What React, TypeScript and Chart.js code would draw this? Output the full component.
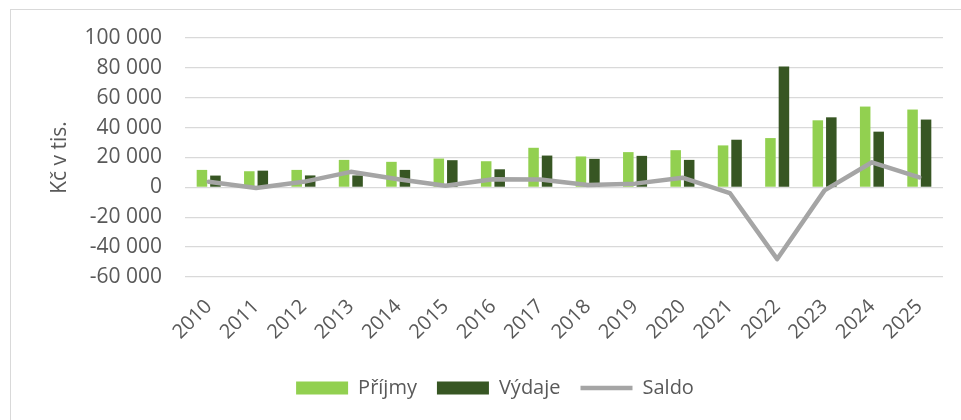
import React, { useEffect, useRef } from "react";
import { Chart, registerables } from "chart.js";

Chart.register(...registerables);

const categories = ["2010","2011","2012","2013","2014","2015","2016","2017","2018","2019","2020","2021","2022","2023","2024","2025"];
const prijmy = [11700, 10800, 11700, 18400, 17100, 19300, 17500, 26500, 20700, 23600, 24900, 28100, 33000, 44900, 54100, 52100];
const vydaje = [7900, 11200, 8000, 8000, 11700, 18200, 12100, 21300, 19100, 21100, 18400, 31900, 81000, 46900, 37300, 45400];
const saldo = [3800, -400, 3700, 10400, 5400, 1100, 5400, 5200, 1600, 2500, 6500, -3800, -48000, -2000, 16800, 6700];
const yMin = -60000;
const yMax = 100000;
const yStep = 20000;

const FONT = "'Open Sans', sans-serif";
const TEXT = "#595959";

function fmt(v: number): string {
  const s = String(Math.abs(v)).replace(/\B(?=(\d{3})+(?!\d))/g, " ");
  return (v < 0 ? "-" : "") + s;
}

export default function App() {
  const ref = useRef<HTMLCanvasElement | null>(null);
  useEffect(() => {
    if (!ref.current) return;
    const chart = new Chart(ref.current, {
      type: "bar",
      data: {
        labels: categories,
        datasets: [
          { label: "Příjmy", data: prijmy, backgroundColor: "#92d050", borderWidth: 0, pointStyle: "rect", order: 1, categoryPercentage: 0.57, barPercentage: 0.78 } as any,
          { label: "Výdaje", data: vydaje, backgroundColor: "#375623", borderWidth: 0, pointStyle: "rect", order: 1, categoryPercentage: 0.57, barPercentage: 0.78 } as any,
          { type: "line", label: "Saldo", data: saldo, borderColor: "#a5a5a5", backgroundColor: "#a5a5a5", borderWidth: 4.5, pointRadius: 0, pointStyle: "line", borderJoinStyle: "round", borderCapStyle: "round", order: 0, tension: 0 } as any,
        ],
      },
      options: {
        responsive: false,
        animation: false,
        layout: { padding: { left: 47, top: 38, right: 18, bottom: 12 } },
        plugins: {
          tooltip: { enabled: false },
          legend: {
            position: "bottom",
            labels: {
              usePointStyle: true,
              pointStyleWidth: 52,
              boxHeight: 13,
              padding: 20,
              color: TEXT,
              font: { family: FONT, size: 20 },
              sort: (a: any, b: any) => a.datasetIndex - b.datasetIndex,
            },
          },
        },
        scales: {
          x: {
            grid: { display: false, drawTicks: false },
            border: { display: false },
            ticks: { color: TEXT, font: { family: FONT, size: 20 }, minRotation: 45, maxRotation: 45, padding: 18 },
            afterFit: (s: any) => { s.height = 81; },
          },
          y: {
            min: yMin,
            max: yMax,
            grid: { color: "#d9d9d9", lineWidth: 1.3, drawTicks: false },
            border: { display: false },
            ticks: { stepSize: yStep, color: TEXT, font: { family: FONT, size: 21 }, padding: 23, callback: (v: any) => fmt(Number(v)) },
            title: { display: true, text: "Kč v tis.", color: TEXT, font: { family: FONT, size: 21 }, padding: 0 },
            afterFit: (s: any) => { s.width = 138; },
          },
        },
      } as any,
    });
    return () => chart.destroy();
  }, []);
  return (
    <div style={{ position: "absolute", left: 0, top: 0, width: 961, height: 420, background: "#fff", overflow: "hidden" }}>
      <div style={{ position: "absolute", left: 10, top: 9, width: 960, height: 420, border: "1px solid #d9d9d9" }} />
      <canvas ref={ref} width={961} height={420} style={{ position: "absolute", left: 0, top: 0, width: 961, height: 420 }} />
    </div>
  );
}
